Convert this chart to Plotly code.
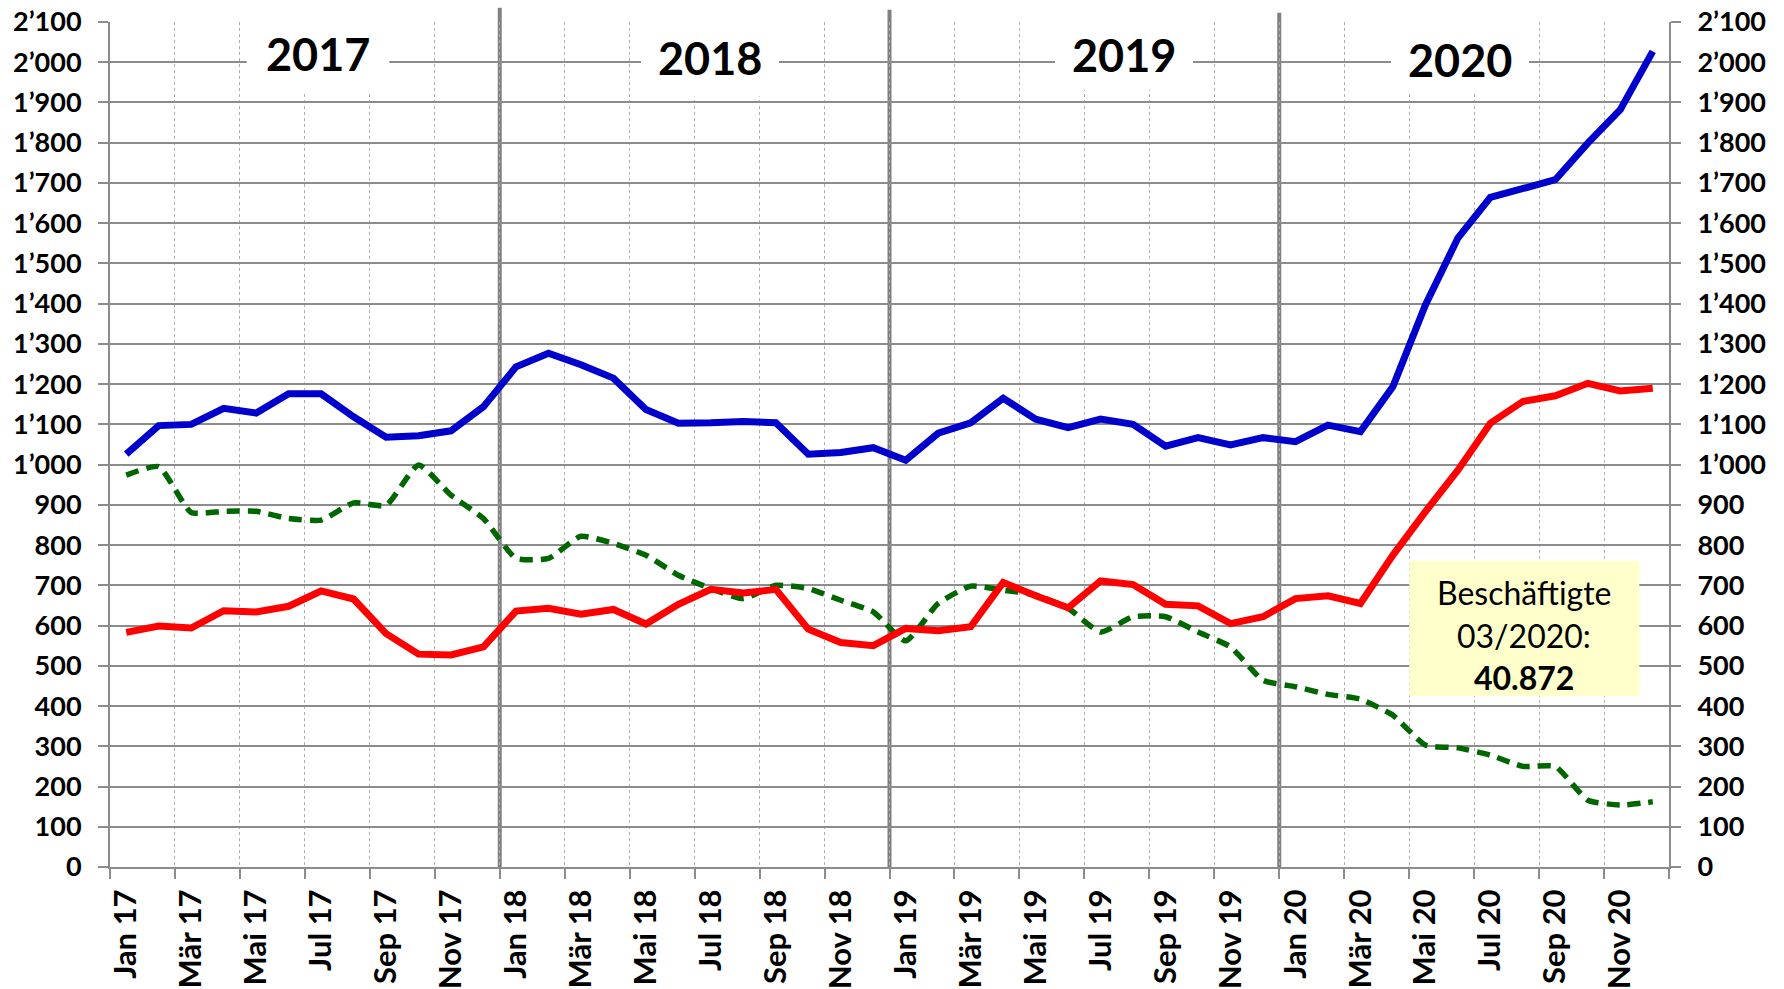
import plotly.graph_objects as go

# ---------------- data ----------------
month_names = ["Jan", "Feb", "Mär", "Apr", "Mai", "Jun", "Jul", "Aug", "Sep", "Okt", "Nov", "Dez"]
years = ["17", "18", "19", "20"]
categories = [f"{m} {y}" for y in years for m in month_names]

blue_values = [1026, 1097, 1100, 1140, 1128, 1176, 1176, 1119, 1068, 1072, 1084, 1144,
               1243, 1277, 1248, 1215, 1137, 1103, 1104, 1107, 1104, 1026, 1030, 1042,
               1011, 1078, 1104, 1165, 1113, 1092, 1113, 1100, 1046, 1067, 1049, 1067,
               1057, 1098, 1082, 1194, 1397, 1563, 1664, 1687, 1708, 1799, 1882, 2027]

red_values = [583, 599, 594, 637, 634, 648, 686, 666, 580, 529, 527, 547,
              636, 643, 628, 640, 604, 653, 690, 681, 690, 591, 558, 550,
              593, 587, 597, 707, 674, 644, 711, 702, 653, 649, 605, 622,
              667, 674, 655, 775, 883, 986, 1103, 1157, 1171, 1202, 1183, 1190]

green_values = [974, 995, 881, 884, 884, 866, 862, 905, 899, 999, 924, 866,
                767, 767, 822, 804, 775, 725, 692, 667, 700, 692, 663, 634,
                562, 655, 698, 688, 676, 643, 584, 622, 622, 584, 547, 464,
                448, 429, 417, 377, 303, 296, 278, 250, 250, 166, 154, 162]

year_labels = ["2017", "2018", "2019", "2020"]
y_ticks = list(range(0, 2101, 100))
box_lines = ["Beschäftigte", "03/2020:", "<b>40.872</b>"]

# ---------------- layout helpers ----------------
W, H = 1784, 989
PL, PR = 110, 1669          # plot area left/right (px)
PT, PB = 22.3, 866.7        # plot area top/bottom (px)


def px_x(px):
    return (px - PL) / (PR - PL)


def px_y(py):
    return (PB - py) / (PB - PT)


def fmt(v):
    return f"{v // 1000}\u2019{v % 1000:03d}" if v >= 1000 else str(v)


x = list(range(len(categories)))
FONT = "Lato"

fig = go.Figure()
fig.add_trace(go.Scatter(x=x, y=green_values, mode="lines", name="green",
                         line=dict(color="#006600", width=5.5, dash="13px,8px", shape="spline", smoothing=0.5)))
fig.add_trace(go.Scatter(x=x, y=red_values, mode="lines", name="red",
                         line=dict(color="#FF0000", width=7)))
fig.add_trace(go.Scatter(x=x, y=blue_values, mode="lines", name="blue",
                         line=dict(color="#0000CC", width=7)))
# invisible trace to activate right axis
fig.add_trace(go.Scatter(x=[x[0]], y=[0], yaxis="y2", mode="markers",
                         marker=dict(opacity=0), showlegend=False, hoverinfo="skip"))

tickvals_x = x[::2]
ticktext_x = categories[::2]

fig.update_layout(
    width=W, height=H,
    margin=dict(l=PL, r=W - PR, t=PT, b=H - PB, pad=0, autoexpand=False),
    paper_bgcolor="white", plot_bgcolor="white",
    showlegend=False,
    font=dict(family=FONT, color="black"),
    xaxis=dict(
        range=[-0.5, len(categories) - 0.5], automargin=False,
        tickmode="array", tickvals=tickvals_x, ticktext=ticktext_x,
        tickangle=-90, ticks="", showgrid=False,
        tickfont=dict(family=FONT, size=31, color="black", weight="bold"),
        ticklabelstandoff=8,
        showline=True, linecolor="#8c8c8c", linewidth=2,
        zeroline=False,
        minor=dict(tick0=-0.5, dtick=2, showgrid=True, gridcolor="#b0b0b0",
                   griddash="dot", gridwidth=1, ticks="outside", ticklen=10,
                   tickcolor="#8c8c8c", tickwidth=2),
    ),
    yaxis=dict(
        range=[0, 2100], tickmode="array", tickvals=y_ticks, automargin=False,
        ticktext=[fmt(v) for v in y_ticks],
        tickfont=dict(family=FONT, size=27, color="black", weight="bold"),
        ticks="outside", ticklen=10, tickcolor="#8c8c8c", tickwidth=2,
        ticklabelstandoff=11,
        showgrid=True, gridcolor="#8c8c8c", gridwidth=2,
        showline=True, linecolor="#8c8c8c", linewidth=2, zeroline=False,
    ),
    yaxis2=dict(
        range=[0, 2100], overlaying="y", side="right", tickmode="array", automargin=False,
        tickvals=y_ticks, ticktext=[fmt(v) for v in y_ticks],
        tickfont=dict(family=FONT, size=27, color="black", weight="bold"),
        ticks="outside", ticklen=10, tickcolor="#8c8c8c", tickwidth=2,
        ticklabelstandoff=11,
        showgrid=False, showline=True, linecolor="#8c8c8c", linewidth=2, zeroline=False,
    ),
)

# year separators (at year boundaries)
sep_tops = [8, 10, 13]
for i, top in enumerate(sep_tops):
    bx = (i + 1) * 12 - 0.5
    fig.add_shape(type="line", xref="x", yref="paper", x0=bx, x1=bx,
                  y0=px_y(868), y1=px_y(top), line=dict(color="#808080", width=4),
                  layer="between")

# year label boxes
year_boxes = [(246.7, 389.3, 93.3, 317.5, 54.5),
              (641, 779, 96.7, 710, 58.5),
              (1055, 1193, 90, 1123.8, 55.3),
              (1391, 1529, 94.3, 1459.7, 60.5)]
for lab, (x0, x1, yb, tx, ty) in zip(year_labels, year_boxes):
    fig.add_shape(type="rect", xref="paper", yref="paper",
                  x0=px_x(x0), x1=px_x(x1), y0=px_y(yb), y1=px_y(0),
                  fillcolor="white", line=dict(width=0), layer="above")
    fig.add_annotation(xref="paper", yref="paper", x=px_x(tx), y=px_y(ty),
                       xanchor="center", yanchor="middle", showarrow=False,
                       text=f"<b>{lab}</b>", font=dict(family=FONT, size=45, color="black"))

# info box
fig.add_shape(type="rect", xref="paper", yref="paper",
              x0=px_x(1409.3), x1=px_x(1639.3), y0=px_y(695.7), y1=px_y(560.7),
              fillcolor="#FFFFCC", line=dict(width=0), layer="above")
for txt, cy in zip(box_lines, [592, 635, 677]):
    fig.add_annotation(xref="paper", yref="paper", x=px_x(1524.3), y=px_y(cy),
                       xanchor="center", yanchor="middle", showarrow=False,
                       text=txt, font=dict(family=FONT, size=32, color="black"))

fig.write_html("out.html", config={"displayModeBar": False},
               post_script="document.body.style.margin='0';document.body.style.overflow='hidden';")
